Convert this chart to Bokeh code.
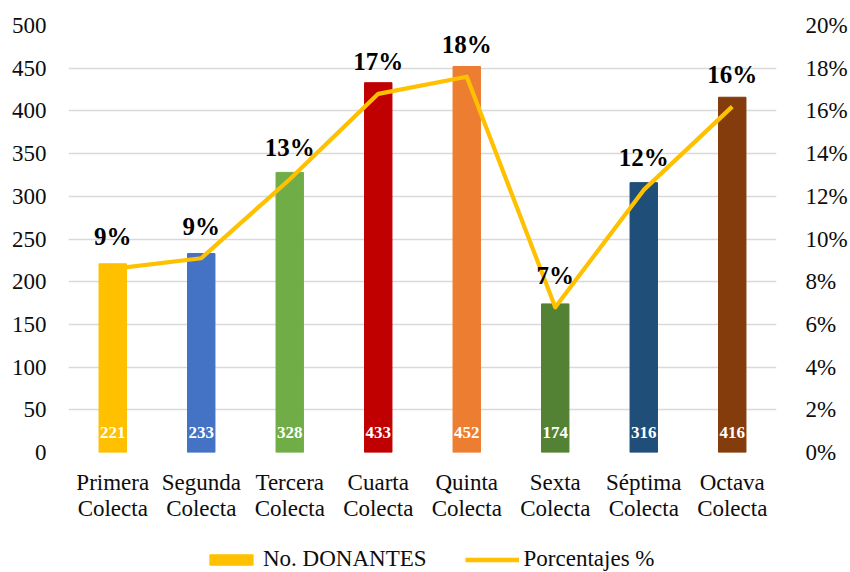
from bokeh.plotting import figure
from bokeh.layouts import column
from bokeh.models import (Range1d, LinearAxis, FixedTicker, ColumnDataSource, Legend, LegendItem)
from bokeh.core.properties import value
from bokeh.embed import file_html
from bokeh.resources import INLINE

categories = ["Primera\nColecta", "Segunda\nColecta", "Tercera\nColecta", "Cuarta\nColecta",
              "Quinta\nColecta", "Sexta\nColecta", "Séptima\nColecta", "Octava\nColecta"]
donantes = [221, 233, 328, 433, 452, 174, 316, 416]
porcentajes = [8.6, 9.1, 12.8, 16.8, 17.6, 6.8, 12.3, 16.2]
pct_labels = ["9%", "9%", "13%", "17%", "18%", "7%", "12%", "16%"]
colors = ["#FFC000", "#4472C4", "#70AD47", "#C00000", "#ED7D31", "#548235", "#1F4E79", "#843C0C"]
left_ticks = [0, 50, 100, 150, 200, 250, 300, 350, 400, 450, 500]
right_ticks = [0, 2, 4, 6, 8, 10, 12, 14, 16, 18, 20]
legend_labels = ["No. DONANTES", "Porcentajes %"]

FONT = "Liberation Serif"
TXT = "#0d0d0d"
LINE_COLOR = "#FFC000"
xs = list(range(1, len(categories) + 1))

src = ColumnDataSource(dict(x=xs, y=donantes, c=colors, lbl=[str(v) for v in donantes],
                            p=porcentajes, pl=pct_labels, zero=[0] * len(xs)))

p = figure(width=850, height=544, output_backend="svg", toolbar_location=None,
           x_range=Range1d(0.5, len(xs) + 0.5), y_range=Range1d(0, 500),
           min_border_left=68, min_border_right=67, min_border_top=25, min_border_bottom=92)
p.extra_y_ranges = {"pct": Range1d(0, 20)}
p.outline_line_color = None
p.background_fill_color = "white"
p.border_fill_color = "white"

p.xgrid.grid_line_color = None
p.ygrid.ticker = FixedTicker(ticks=left_ticks)
p.ygrid.grid_line_color = "#D9D9D9"
p.ygrid.grid_line_width = 1.5

bars = p.vbar(x="x", top="y", width=0.31, color="c", source=src)
line = p.line(x="x", y="p", y_range_name="pct", line_color=LINE_COLOR, line_width=4.2,
              line_join="round", source=src)

p.text(x="x", y="zero", text="lbl", source=src, text_color="white", text_font=value(FONT),
       text_font_style="bold", text_font_size="17px", text_align="center",
       text_baseline="middle", y_offset=-20)
p.text(x="x", y="p", y_range_name="pct", text="pl", source=src, text_color="black",
       text_font=value(FONT), text_font_style="bold", text_font_size="25px",
       text_align="center", text_baseline="middle", y_offset=-32)

# axes
p.xaxis.ticker = FixedTicker(ticks=xs)
p.xaxis.major_label_overrides = {x: c for x, c in zip(xs, categories)}
p.yaxis.ticker = FixedTicker(ticks=left_ticks)
for ax in [p.xaxis[0], p.yaxis[0]]:
    ax.axis_line_color = None
    ax.major_tick_line_color = None
    ax.minor_tick_line_color = None
    ax.major_label_text_font = FONT
    ax.major_label_text_font_size = "23px"
    ax.major_label_text_color = TXT
p.xaxis.major_label_text_line_height = 1.05
p.xaxis.major_label_standoff = 11
p.yaxis.major_label_standoff = 16

ra = LinearAxis(y_range_name="pct", ticker=FixedTicker(ticks=right_ticks))
ra.major_label_overrides = {t: f"{t}%" for t in right_ticks}
ra.axis_line_color = None
ra.major_tick_line_color = None
ra.minor_tick_line_color = None
ra.major_label_text_font = FONT
ra.major_label_text_font_size = "23px"
ra.major_label_text_color = TXT
ra.major_label_standoff = 23
p.add_layout(ra, "right")

# legend strip below the chart (renderers share the data but sit far outside the visible range)
lp = figure(width=850, height=28, output_backend="svg", toolbar_location=None,
            x_range=Range1d(0.5, len(xs) + 0.5), y_range=Range1d(900, 901),
            x_axis_type=None, y_axis_type=None,
            min_border=0, min_border_left=0, min_border_right=0, min_border_top=0,
            min_border_bottom=0)
lp.outline_line_color = None
lp.grid.visible = False
lbar = lp.vbar(x="x", top="y", width=0.31, color="c", source=src)
lline = lp.line(x="x", y="p", line_color=LINE_COLOR, line_width=4.5, source=src)
legend = Legend(items=[LegendItem(label=legend_labels[0], renderers=[lbar]),
                       LegendItem(label=legend_labels[1], renderers=[lline])],
                orientation="horizontal", location=(136, 0),
                label_text_font=FONT, label_text_font_size="23px", label_text_color=TXT,
                glyph_width=54, glyph_height=13, spacing=38, label_standoff=5,
                border_line_color=None, background_fill_alpha=0, margin=0, padding=0)
lp.add_layout(legend)

open("out.html", "w").write(file_html(column(p, lp), INLINE))
